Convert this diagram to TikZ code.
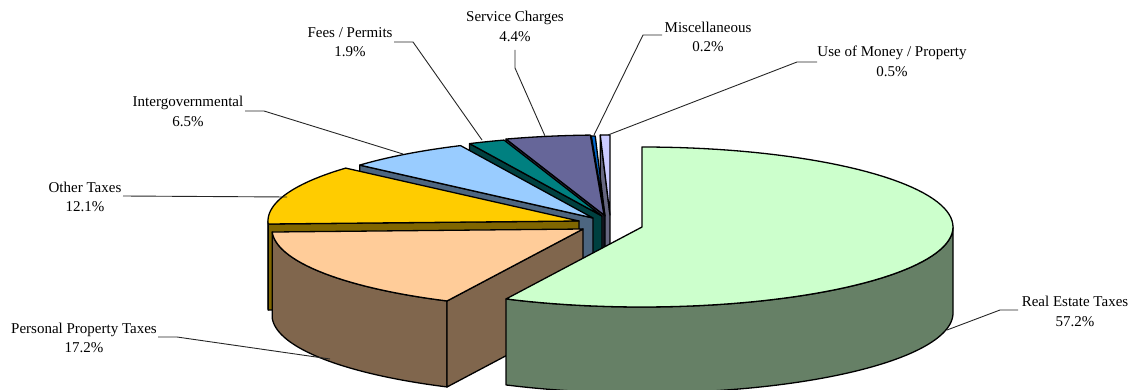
\documentclass[tikz,border=0pt]{standalone}
\usepackage{fontspec}
\setmainfont{Liberation Serif}
\begin{document}
% Revenue sources, 3-D exploded pie
\definecolor{reTop}{HTML}{CCFFCC}\definecolor{reSide}{HTML}{668066}
\definecolor{ppTop}{HTML}{FFCC99}\definecolor{ppSide}{HTML}{80664D}
\definecolor{otTop}{HTML}{FFCC00}\definecolor{otSide}{HTML}{806600}
\definecolor{igTop}{HTML}{99CCFF}\definecolor{igSide}{HTML}{4D6680}
\definecolor{fpTop}{HTML}{008080}\definecolor{fpSide}{HTML}{004040}
\definecolor{scTop}{HTML}{666699}\definecolor{scSide}{HTML}{33334D}
\definecolor{miTop}{HTML}{0066CC}\definecolor{miSide}{HTML}{003366}
\definecolor{umTop}{HTML}{CCCCFF}\definecolor{umSide}{HTML}{666680}
% radii of the tilted disc and its thickness
\def\RA{311}\def\RB{80}\def\DH{86}
% top face of a slice: centre, start angle, end angle, colour
\newcommand\slicetop[5]{%
  \filldraw[fill=#5,slice] (#1,#2) -- plot[domain=#3:#4,samples=90]
    ({#1+\RA*cos(\x)},{#2-\RB*sin(\x)}) -- cycle;}
% cut face of a slice along one radius
\newcommand\sliceface[4]{%
  \filldraw[fill=#4,slice] (#1,#2) -- ({#1+\RA*cos(#3)},{#2-\RB*sin(#3)})
    -- ({#1+\RA*cos(#3)},{#2-\RB*sin(#3)+\DH}) -- (#1,{#2+\DH}) -- cycle;}
% curved rim of a slice between two angles
\newcommand\slicerim[5]{%
  \filldraw[fill=#5,slice] plot[domain=#3:#4,samples=90]
    ({#1+\RA*cos(\x)},{#2-\RB*sin(\x)})
    -- plot[domain=#4:#3,samples=90] ({#1+\RA*cos(\x)},{#2-\RB*sin(\x)+\DH}) -- cycle;}
\begin{tikzpicture}[x=1pt,y=-1pt,
  slice/.style={draw=black,line width=1.3pt,line join=round},
  lbl/.style={align=center,inner sep=0pt,font=\fontsize{15}{19.5}\selectfont},
  leader/.style={draw=black!85,line width=0.9pt}]
\useasboundingbox (0,0) rectangle (1134,390);

% back slices first
\sliceface{610}{215}{91.8}{umSide}
\slicetop{610}{215}{90}{91.8}{umTop}
\sliceface{605}{216}{92.52}{miSide}
\slicetop{605}{216}{91.8}{92.52}{miTop}
\sliceface{604}{215}{108.36}{scSide}
\slicetop{604}{215}{92.52}{108.36}{scTop}
\sliceface{602}{216}{115.2}{fpSide}
\slicetop{602}{216}{108.36}{115.2}{fpTop}
\sliceface{593}{218}{138.6}{igSide}
\slicetop{593}{218}{115.2}{138.6}{igTop}
% other taxes
\sliceface{579}{221}{182.16}{otSide}
\slicerim{579}{221}{180}{182.16}{otSide}
\slicetop{579}{221}{138.6}{182.16}{otTop}
% personal property taxes
\slicerim{583}{229}{182.16}{244.08}{ppSide}
\sliceface{583}{229}{244.08}{ppSide}
\slicetop{583}{229}{182.16}{244.08}{ppTop}
% real estate taxes, pulled out
\slicerim{642}{227}{-115.92}{0}{reSide}
\slicetop{642}{227}{-115.92}{90}{reTop}

% labels
\node[lbl] (re) at (1075,311.5) {Real Estate Taxes\\57.2\%};
\node[lbl] (pp) at (84,338) {Personal Property Taxes\\17.2\%};
\node[lbl] (ot) at (85,197) {Other Taxes\\12.1\%};
\node[lbl] (ig) at (188,111.5) {Intergovernmental\\6.5\%};
\node[lbl] (fp) at (350,42) {Fees / Permits\\1.9\%};
\node[lbl] (sc) at (515,26.5) {Service Charges\\4.4\%};
\node[lbl] (mi) at (708,37) {Miscellaneous\\0.2\%};
\node[lbl] (um) at (892,61.5) {Use of Money / Property\\0.5\%};

% leader ends
\coordinate (reA) at (1018,310); \coordinate (reB) at (1000,310); \coordinate (reC) at (947,330);
\coordinate (ppA) at (158,337); \coordinate (ppB) at (177,337); \coordinate (ppC) at (330,359);
\coordinate (otA) at (123,196); \coordinate (otC) at (287,197);
\coordinate (igA) at (245,111); \coordinate (igB) at (264,111); \coordinate (igC) at (403,154);
\coordinate (fpA) at (394,42); \coordinate (fpB) at (413,42); \coordinate (fpC) at (482,140);
\coordinate (scA) at (515,50); \coordinate (scB) at (515,68); \coordinate (scC) at (545,136);
\coordinate (miA) at (662,35); \coordinate (miB) at (643,35); \coordinate (miC) at (594,135);
\coordinate (umA) at (817,62); \coordinate (umB) at (797,62); \coordinate (umC) at (608,135);

\draw[leader] (reA) -- (reB) -- (reC);
\draw[leader] (ppA) -- (ppB) -- (ppC);
\draw[leader] (otA) -- (otC);
\draw[leader] (igA) -- (igB) -- (igC);
\draw[leader] (fpA) -- (fpB) -- (fpC);
\draw[leader] (scA) -- (scB) -- (scC);
\draw[leader] (miA) -- (miB) -- (miC);
\draw[leader] (umA) -- (umB) -- (umC);
\end{tikzpicture}
\end{document}
